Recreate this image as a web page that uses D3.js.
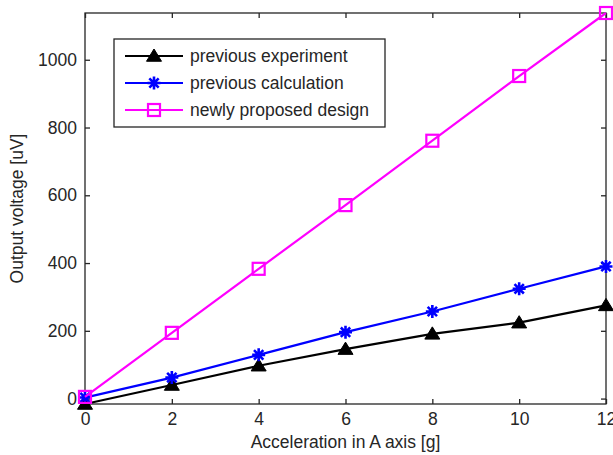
<!DOCTYPE html>
<html><head><meta charset="utf-8">
<script src="https://cdn.jsdelivr.net/npm/d3@7"></script>
<style>
html,body{margin:0;padding:0;background:#fff;}
svg{display:block;font-family:"Liberation Sans",Arial,sans-serif;}
</style></head>
<body>
<svg id="chart" width="613" height="455"></svg>
<script>
const xValues = [0, 2, 4, 6, 8, 10, 12];
const previousExperiment = [-16, 40, 97, 146, 191, 224, 275];
const previousCalculation = [3, 62, 129, 196, 257, 324, 390];
const newlyProposed = [5, 194, 383, 571, 761, 952, 1138];
const xTicks = [0, 2, 4, 6, 8, 10, 12];
const yTicks = [0, 200, 400, 600, 800, 1000];
const seriesNames = ["previous experiment", "previous calculation", "newly proposed design"];
const seriesColors = ["#000000", "#0000ff", "#ff00ff"];
const seriesMarkers = ["triangle", "star", "square"];
const xLabel = "Acceleration in A axis [g]";
const yLabel = "Output voltage [uV]";

(function () {
const svg = d3.select("#chart");
const L = 85, R = 606, T = 13, B = 404;
const allY = previousExperiment.concat(previousCalculation, newlyProposed);
const x = d3.scaleLinear().domain(d3.extent(xValues)).range([L, R]);
const y = d3.scaleLinear().domain(d3.extent(allY)).range([B, T]);
const axisColor = "#262626";
const fs = 17.5;

svg.append("rect").attr("x", L).attr("y", T).attr("width", R - L).attr("height", B - T)
  .attr("fill", "none").attr("stroke", axisColor).attr("stroke-width", 1.3);

const tl = 5;
const axB = d3.axisBottom(x).tickValues(xTicks).tickSize(-tl).tickPadding(9).tickFormat(d3.format("d"));
const axT = d3.axisTop(x).tickValues(xTicks).tickSize(-tl).tickFormat("");
const axL = d3.axisLeft(y).tickValues(yTicks).tickSize(-tl).tickPadding(8).tickFormat(d3.format("d"));
const axR = d3.axisRight(y).tickValues(yTicks).tickSize(-tl).tickFormat("");

function styleAxis(g) {
  g.select(".domain").remove();
  g.selectAll(".tick line").attr("stroke", axisColor).attr("stroke-width", 1.3);
  g.selectAll(".tick text").attr("fill", axisColor).style("font-size", fs + "px")
    .style("font-family", "'Liberation Sans', Arial, sans-serif");
}
svg.append("g").attr("transform", `translate(0,${B})`).call(axB).call(styleAxis);
svg.append("g").attr("transform", `translate(0,${T})`).call(axT).call(styleAxis);
svg.append("g").attr("transform", `translate(${L},0)`).call(axL).call(styleAxis);
svg.append("g").attr("transform", `translate(${R},0)`).call(axR).call(styleAxis);

svg.append("text").attr("x", (L + R) / 2).attr("y", 448).attr("text-anchor", "middle")
  .attr("fill", axisColor).style("font-size", fs + "px").text(xLabel);
svg.append("text").attr("transform", `translate(23,${(T + B) / 2}) rotate(-90)`)
  .attr("text-anchor", "middle").attr("fill", axisColor).style("font-size", fs + "px").text(yLabel);

function drawMarker(g, type, color, cx, cy) {
  if (type === "triangle") {
    const w = 7.5, h = 7;
    g.append("path").attr("d", `M${cx},${cy - h} L${cx + w},${cy + h * 0.75} L${cx - w},${cy + h * 0.75} Z`)
      .attr("fill", color).attr("stroke", color).attr("stroke-width", 1);
  } else if (type === "star") {
    const r = 6.5, d = r * 0.72;
    g.append("path").attr("d",
      `M${cx - r},${cy}L${cx + r},${cy}M${cx},${cy - r}L${cx},${cy + r}` +
      `M${cx - d},${cy - d}L${cx + d},${cy + d}M${cx - d},${cy + d}L${cx + d},${cy - d}`)
      .attr("stroke", color).attr("stroke-width", 2.6).attr("fill", "none");
  } else {
    const s = 6;
    g.append("rect").attr("x", cx - s).attr("y", cy - s).attr("width", 2 * s).attr("height", 2 * s)
      .attr("fill", "none").attr("stroke", color).attr("stroke-width", 2.2);
  }
}

const seriesData = [previousExperiment, previousCalculation, newlyProposed];
const line = d3.line().x(d => x(d[0])).y(d => y(d[1]));
seriesData.forEach((vals, i) => {
  const pts = xValues.map((xv, j) => [xv, vals[j]]);
  const g = svg.append("g");
  g.append("path").attr("d", line(pts)).attr("fill", "none")
    .attr("stroke", seriesColors[i]).attr("stroke-width", 2.2);
  pts.forEach(p => drawMarker(g, seriesMarkers[i], seriesColors[i], x(p[0]), y(p[1])));
});

const lg = svg.append("g");
lg.append("rect").attr("x", 114).attr("y", 39).attr("width", 271).attr("height", 88)
  .attr("fill", "#fff").attr("stroke", axisColor).attr("stroke-width", 1.3);
seriesNames.forEach((name, i) => {
  const cy = 56 + i * 27;
  lg.append("line").attr("x1", 125).attr("x2", 183).attr("y1", cy).attr("y2", cy)
    .attr("stroke", seriesColors[i]).attr("stroke-width", 2.2);
  drawMarker(lg, seriesMarkers[i], seriesColors[i], 154, cy);
  lg.append("text").attr("x", 190).attr("y", cy).attr("dy", "0.35em").attr("fill", axisColor)
    .style("font-size", fs + "px").text(name);
});
})();
</script>
</body></html>
